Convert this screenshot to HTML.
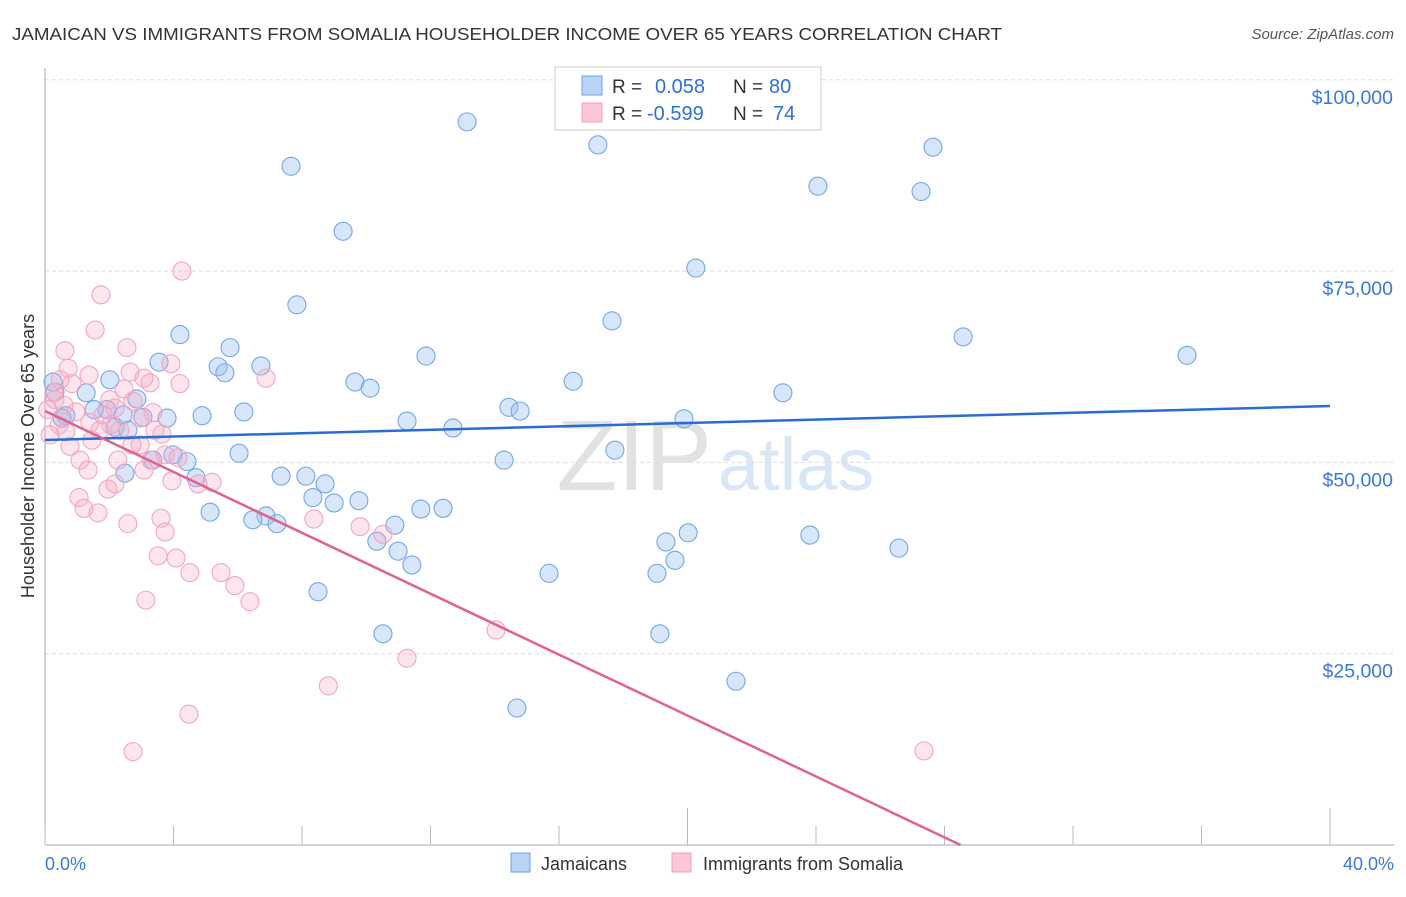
<!DOCTYPE html>
<html><head><meta charset="utf-8"><style>
body{margin:0;background:#fff;font-family:"Liberation Sans",sans-serif;}
svg text{font-family:"Liberation Sans",sans-serif;}
</style></head><body>
<svg id="chart" width="1406" height="892">
<text x="12" y="40" font-size="17.5" fill="#333" textLength="990" lengthAdjust="spacingAndGlyphs">JAMAICAN VS IMMIGRANTS FROM SOMALIA HOUSEHOLDER INCOME OVER 65 YEARS CORRELATION CHART</text>
<text x="1394" y="39" font-size="15" fill="#555" font-style="italic" text-anchor="end">Source: ZipAtlas.com</text>
<text x="712" y="490" font-size="100" fill="#e2e2e2" text-anchor="end" font-family="Liberation Serif">ZIP</text>
<text x="718" y="490" font-size="74" fill="#d8e6f6">atlas</text>
<text transform="translate(34,456) rotate(-90)" font-size="18" fill="#333" text-anchor="middle">Householder Income Over 65 years</text>
<g id="grid"></g><g id="marks"></g>
<g>
<rect x="555" y="67" width="266" height="63" fill="#fff" stroke="#ccc"/>
<rect x="582" y="76" width="20" height="19" fill="#b9d3f5" stroke="#6a9fe0"/>
<rect x="582" y="103" width="20" height="19" fill="#fac6d6" stroke="#f0a0bb"/>
<text x="612" y="93" font-size="19" fill="#333">R =</text>
<text x="655" y="93" font-size="20" fill="#2f6fd8">0.058</text>
<text x="733" y="93" font-size="19" fill="#333">N =</text>
<text x="769" y="93" font-size="20" fill="#2f6fd8">80</text>
<text x="612" y="120" font-size="19" fill="#333">R =</text>
<text x="647" y="120" font-size="20" fill="#2f6fd8">-0.599</text>
<text x="733" y="120" font-size="19" fill="#333">N =</text>
<text x="773" y="120" font-size="20" fill="#2f6fd8">74</text>
</g>
<text x="45" y="870" font-size="18" fill="#3a78d8">0.0%</text>
<text x="1394" y="870" font-size="18" fill="#3a78d8" text-anchor="end">40.0%</text>
<g><rect x="511" y="853" width="19" height="19" fill="#b9d3f5" stroke="#6a9fe0"/><text x="541" y="870" font-size="18" fill="#333">Jamaicans</text></g>
<g><rect x="672" y="853" width="19" height="19" fill="#fac6d6" stroke="#f0a0bb"/><text x="703" y="870" font-size="18" fill="#333">Immigrants from Somalia</text></g>
</svg>
<script>
const yTicks=[25000,50000,75000,100000];
const yTickLabels=["$25,000","$50,000","$75,000","$100,000"];
const xTicks=[0,4,8,12,16,20,24,28,32,36,40];
const blueX=[13.14,17.21,27.64,7.66,24.06,27.27,9.28,20.26,7.84,17.65,4.2,28.58,35.55,5.76,11.86,3.55,5.39,6.72,5.6,16.44,9.65,10.12,2.02,0.25,0.31,1.28,22.97,2.86,14.44,14.79,6.19,4.89,1.93,2.43,1.53,3.05,3.8,0.65,0.53,11.27,19.89,12.7,2.18,2.58,17.74,3.36,4.42,14.29,2.49,4.7,7.35,8.12,8.72,6.04,8.34,9.0,9.77,11.7,12.39,5.14,6.88,6.47,7.22,10.89,10.33,19.33,20.02,23.81,10.99,19.61,11.42,15.69,19.05,26.58,8.5,10.52,19.14,21.51,14.69,3.98];
const blueY=[94.5,91.5,91.2,88.7,86.1,85.4,80.2,75.4,70.6,68.5,66.7,66.4,64.0,65.0,63.9,63.1,62.5,62.6,61.7,60.6,60.5,59.7,60.8,60.5,59.2,59.1,59.1,58.3,57.2,56.7,56.6,56.1,56.9,56.2,56.9,55.9,55.8,56.1,55.8,55.4,55.7,54.5,54.6,54.2,51.6,50.3,50.1,50.3,48.6,48.0,48.2,48.2,47.2,51.2,45.4,44.7,45.0,43.9,44.0,43.5,43.0,42.5,42.0,41.8,39.7,39.6,40.8,40.5,38.4,37.2,36.6,35.5,35.5,38.8,33.1,27.6,27.6,21.4,17.9,51.0];
const pinkX=[4.26,1.74,1.56,0.62,2.55,3.92,6.88,0.72,3.08,1.37,2.65,0.47,3.27,0.84,4.2,2.46,0.28,2.02,2.74,3.36,0.96,2.18,1.81,0.44,1.4,0.65,1.46,2.05,3.64,2.71,2.96,3.42,0.78,1.09,2.27,3.3,4.14,1.34,3.08,3.95,4.76,2.18,5.2,1.96,1.06,1.21,1.65,3.61,3.74,9.81,10.52,8.37,2.58,3.52,4.08,4.51,5.48,5.91,3.14,6.38,14.04,11.27,8.82,4.48,2.74,27.36,0.31,0.09,0.16,0.59,1.71,2.33,2.96,3.74];
const pinkY=[75.0,71.9,67.3,64.6,65.0,62.9,61.0,62.3,61.0,61.4,61.8,60.8,60.4,60.3,60.3,59.6,59.2,58.2,58.0,56.5,56.6,57.1,56.2,54.9,55.2,54.0,52.9,54.9,53.7,52.3,52.3,54.2,52.1,50.3,50.3,50.3,50.6,49.0,49.0,47.6,47.2,47.2,47.4,46.5,45.4,44.0,43.4,42.7,40.9,41.6,40.6,42.6,42.0,37.8,37.5,35.6,35.6,33.9,32.0,31.8,28.1,24.4,20.8,17.1,12.2,12.3,58.2,56.9,53.6,57.5,54.2,54.2,55.8,51.0];
const blueTrend=[52.93,57.37];
const pinkTrend=[56.72,0,28.5];
const X=v=>45+v/40*1285, Y=v=>845-v/25*191.3;
const NS="http://www.w3.org/2000/svg";
const grid=document.getElementById('grid'), marks=document.getElementById('marks');
function mk(tag,attrs,parent){const e=document.createElementNS(NS,tag);for(const k in attrs)e.setAttribute(k,attrs[k]);parent.appendChild(e);return e;}
yTicks.forEach((t,i)=>{
 const y=Y(t/1000);
 const l=mk('line',{x1:45,x2:1394,y1:y,y2:y,stroke:'#ddd','stroke-dasharray':'4,3'},grid);
 
 
 const tx=mk('text',{x:1393,y:y+24,'font-size':19.5,fill:'#3a78d8','text-anchor':'end'},grid);
 tx.textContent=yTickLabels[i];
 
 
});
const ax=mk('line',{x1:45,x2:45,y1:68,y2:845,stroke:'#aaa'},grid);


const bx=mk('line',{x1:45,x2:1394,y1:845,y2:845,stroke:'#aaa'},grid);


xTicks.forEach(t=>{
 const tall=(t===20||t===40);
 const l=mk('line',{x1:X(t),x2:X(t),y1:tall?808:826,y2:845,stroke:'#bbb'},grid);
 
 
});
blueX.forEach((v,i)=>{
 const c=mk('circle',{cx:X(v),cy:Y(blueY[i]),r:9,fill:'rgba(160,196,240,0.42)',stroke:'#74a6e6','stroke-width':1.1},marks);
 
 
});
pinkX.forEach((v,i)=>{
 const c=mk('circle',{cx:X(v),cy:Y(pinkY[i]),r:9,fill:'rgba(245,170,195,0.3)',stroke:'#f2a6c0','stroke-width':1.1},marks);
 
 
});
const bl=mk('line',{x1:X(0),y1:Y(blueTrend[0]),x2:X(40),y2:Y(blueTrend[1]),stroke:'#2a6dd2','stroke-width':2.5},marks);


const pl=mk('line',{x1:X(0),y1:Y(pinkTrend[0]),x2:X(pinkTrend[2]),y2:Y(pinkTrend[1]),stroke:'#e0628f','stroke-width':2.5},marks);


</script>
</body></html>
